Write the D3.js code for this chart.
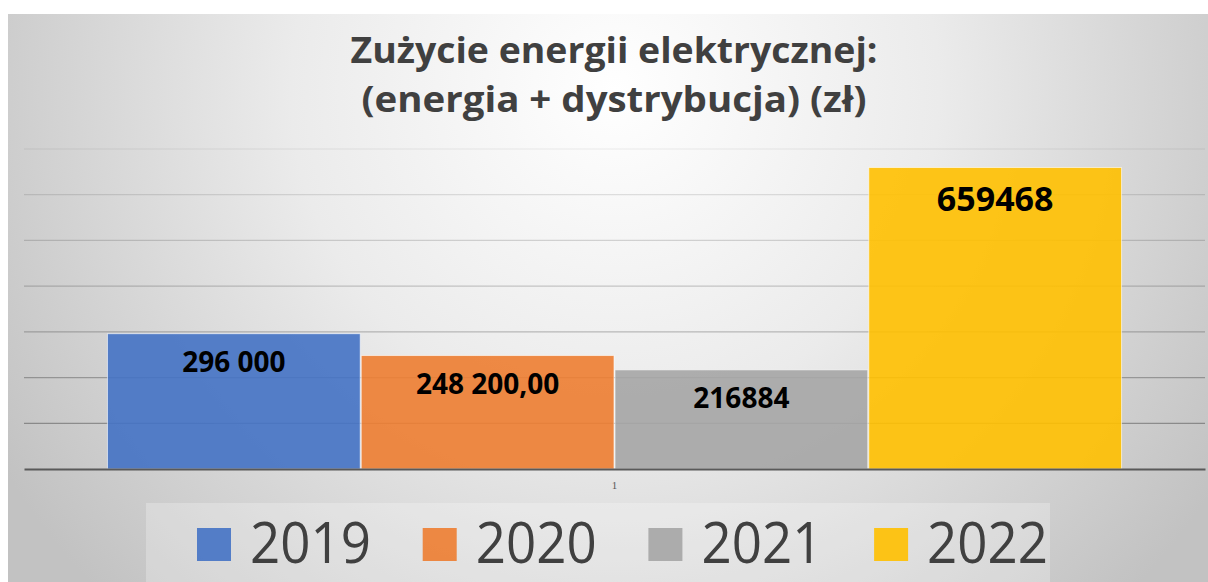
<!DOCTYPE html>
<html>
<head>
<meta charset="utf-8">
<script src="https://cdn.jsdelivr.net/npm/d3@7"></script>
<style>
  body { margin: 0; background: #ffffff; }
  svg { display: block; }
</style>
</head>
<body>
<div id="my_dataviz"></div>
<script>
// chart data
var categories = ["1"];
var years = ["2019", "2020", "2021", "2022"];
var values = [296000, 248200, 216884, 659468];
var valueLabels = ["296 000", "248 200,00", "216884", "659468"];
var yTicks = [100000, 200000, 300000, 400000, 500000, 600000, 700000];
var titleLines = ["Zużycie energii elektrycznej:", "(energia + dystrybucja) (zł)"];

var W = 1208, H = 582;
var margin = {top: 149, right: 3, bottom: 113, left: 24};
var width = W - margin.left - margin.right,
    height = H - margin.top - margin.bottom;

var svg = d3.select("#my_dataviz")
  .append("svg")
    .attr("width", W)
    .attr("height", H);

// background gradient
var defs = svg.append("defs");
var grad = defs.append("radialGradient")
    .attr("id", "bg")
    .attr("gradientUnits", "userSpaceOnUse")
    .attr("cx", 615).attr("cy", 90).attr("r", 720);
grad.append("stop").attr("offset", "0").attr("stop-color", "#ffffff");
grad.append("stop").attr("offset", "0.45").attr("stop-color", "#ebebeb");
grad.append("stop").attr("offset", "1").attr("stop-color", "#c2c2c2");

svg.append("rect")
    .attr("x", 8).attr("y", 14)
    .attr("width", W - 8).attr("height", H - 14)
    .attr("fill", "url(#bg)");

// title
svg.append("g").selectAll("text")
  .data(titleLines)
  .enter()
  .append("text")
    .attr("x", 614)
    .attr("y", function(d, i) { return 63 + i * 49; })
    .attr("text-anchor", "middle")
    .attr("font-family", "'Open Sans', sans-serif")
    .attr("font-weight", "bold")
    .attr("font-size", 35)
    .attr("textLength", function(d, i) { return i == 0 ? 527 : 505; })
    .attr("lengthAdjust", "spacingAndGlyphs")
    .attr("fill", "#404040")
    .text(function(d) { return d; });

var g = svg.append("g")
    .attr("transform", "translate(" + margin.left + "," + margin.top + ")");

var y = d3.scaleLinear()
    .domain([0, 700000])
    .range([height, 0]);

var x0 = d3.scaleBand()
    .domain(categories)
    .range([0, width])
    .paddingOuter(0.0823);

var x1 = d3.scaleBand()
    .domain(years)
    .range([0, x0.bandwidth()])
    .paddingInner(0.004);

var color = d3.scaleOrdinal()
    .domain(years)
    .range(["#4472c4", "#ed7d31", "#a5a5a5", "#ffc000"]);

// gridlines
g.append("g")
  .selectAll("line")
  .data(yTicks)
  .enter()
  .append("line")
    .attr("x1", 0).attr("x2", width)
    .attr("y1", function(d) { return y(d); })
    .attr("y2", function(d) { return y(d); })
    .attr("stroke", "#000")
    .attr("stroke-opacity", function(d) { return 0.07 + 0.28 * (1 - d / 700000); })
    .attr("stroke-width", 1.2);

var rows = years.map(function(yr, i) {
  return {year: yr, value: values[i], label: valueLabels[i], cat: categories[0]};
});

// bars
var bars = g.append("g")
  .selectAll("g")
  .data(rows)
  .enter()
  .append("g")
    .attr("transform", function(d) { return "translate(" + (x0(d.cat) + x1(d.year)) + ",0)"; });

bars.append("rect")
    .attr("x", 0)
    .attr("y", function(d) { return y(d.value); })
    .attr("width", x1.bandwidth())
    .attr("height", function(d) { return y(0) - y(d.value); })
    .attr("fill", function(d) { return color(d.year); })
    .attr("fill-opacity", 0.9)
    .attr("stroke", "#ffffff")
    .attr("stroke-opacity", 0.6)
    .attr("stroke-width", 1);

// value labels inside bars
bars.append("text")
    .attr("x", x1.bandwidth() / 2)
    .attr("y", function(d, i) { return y(d.value) + (i == 3 ? 43 : 38); })
    .attr("text-anchor", "middle")
    .attr("font-family", "'Open Sans', sans-serif")
    .attr("font-weight", "bold")
    .attr("font-size", function(d, i) { return i == 3 ? 34 : 28; })
    .attr("fill", "#000000")
    .text(function(d) { return d.label; });

// x axis
var xAxis = g.append("g")
    .attr("transform", "translate(0," + height + ")")
    .call(d3.axisBottom(x0).tickSize(0).tickPadding(12));
xAxis.select(".domain")
    .attr("stroke", "#595959")
    .attr("stroke-width", 2);
xAxis.selectAll("text")
    .attr("font-family", "'Liberation Serif', serif")
    .attr("font-size", 11)
    .attr("fill", "#595959");

// legend
svg.append("rect")
    .attr("x", 146).attr("y", 503)
    .attr("width", 904).attr("height", 79)
    .attr("fill", "#ffffff")
    .attr("fill-opacity", 0.25);

var legend = svg.append("g")
  .selectAll("g")
  .data(years)
  .enter()
  .append("g")
    .attr("transform", function(d, i) { return "translate(" + (197 + i * 225.7) + ",528)"; });

legend.append("rect")
    .attr("width", 34).attr("height", 33)
    .attr("fill", function(d) { return color(d); })
    .attr("fill-opacity", 0.9);

legend.append("text")
    .attr("x", 53)
    .attr("y", 35)
    .attr("font-family", "'Open Sans', sans-serif")
    .attr("font-size", 56)
    .attr("textLength", 121)
    .attr("lengthAdjust", "spacingAndGlyphs")
    .attr("fill", "#404040")
    .text(function(d) { return d; });
</script>
</body>
</html>
